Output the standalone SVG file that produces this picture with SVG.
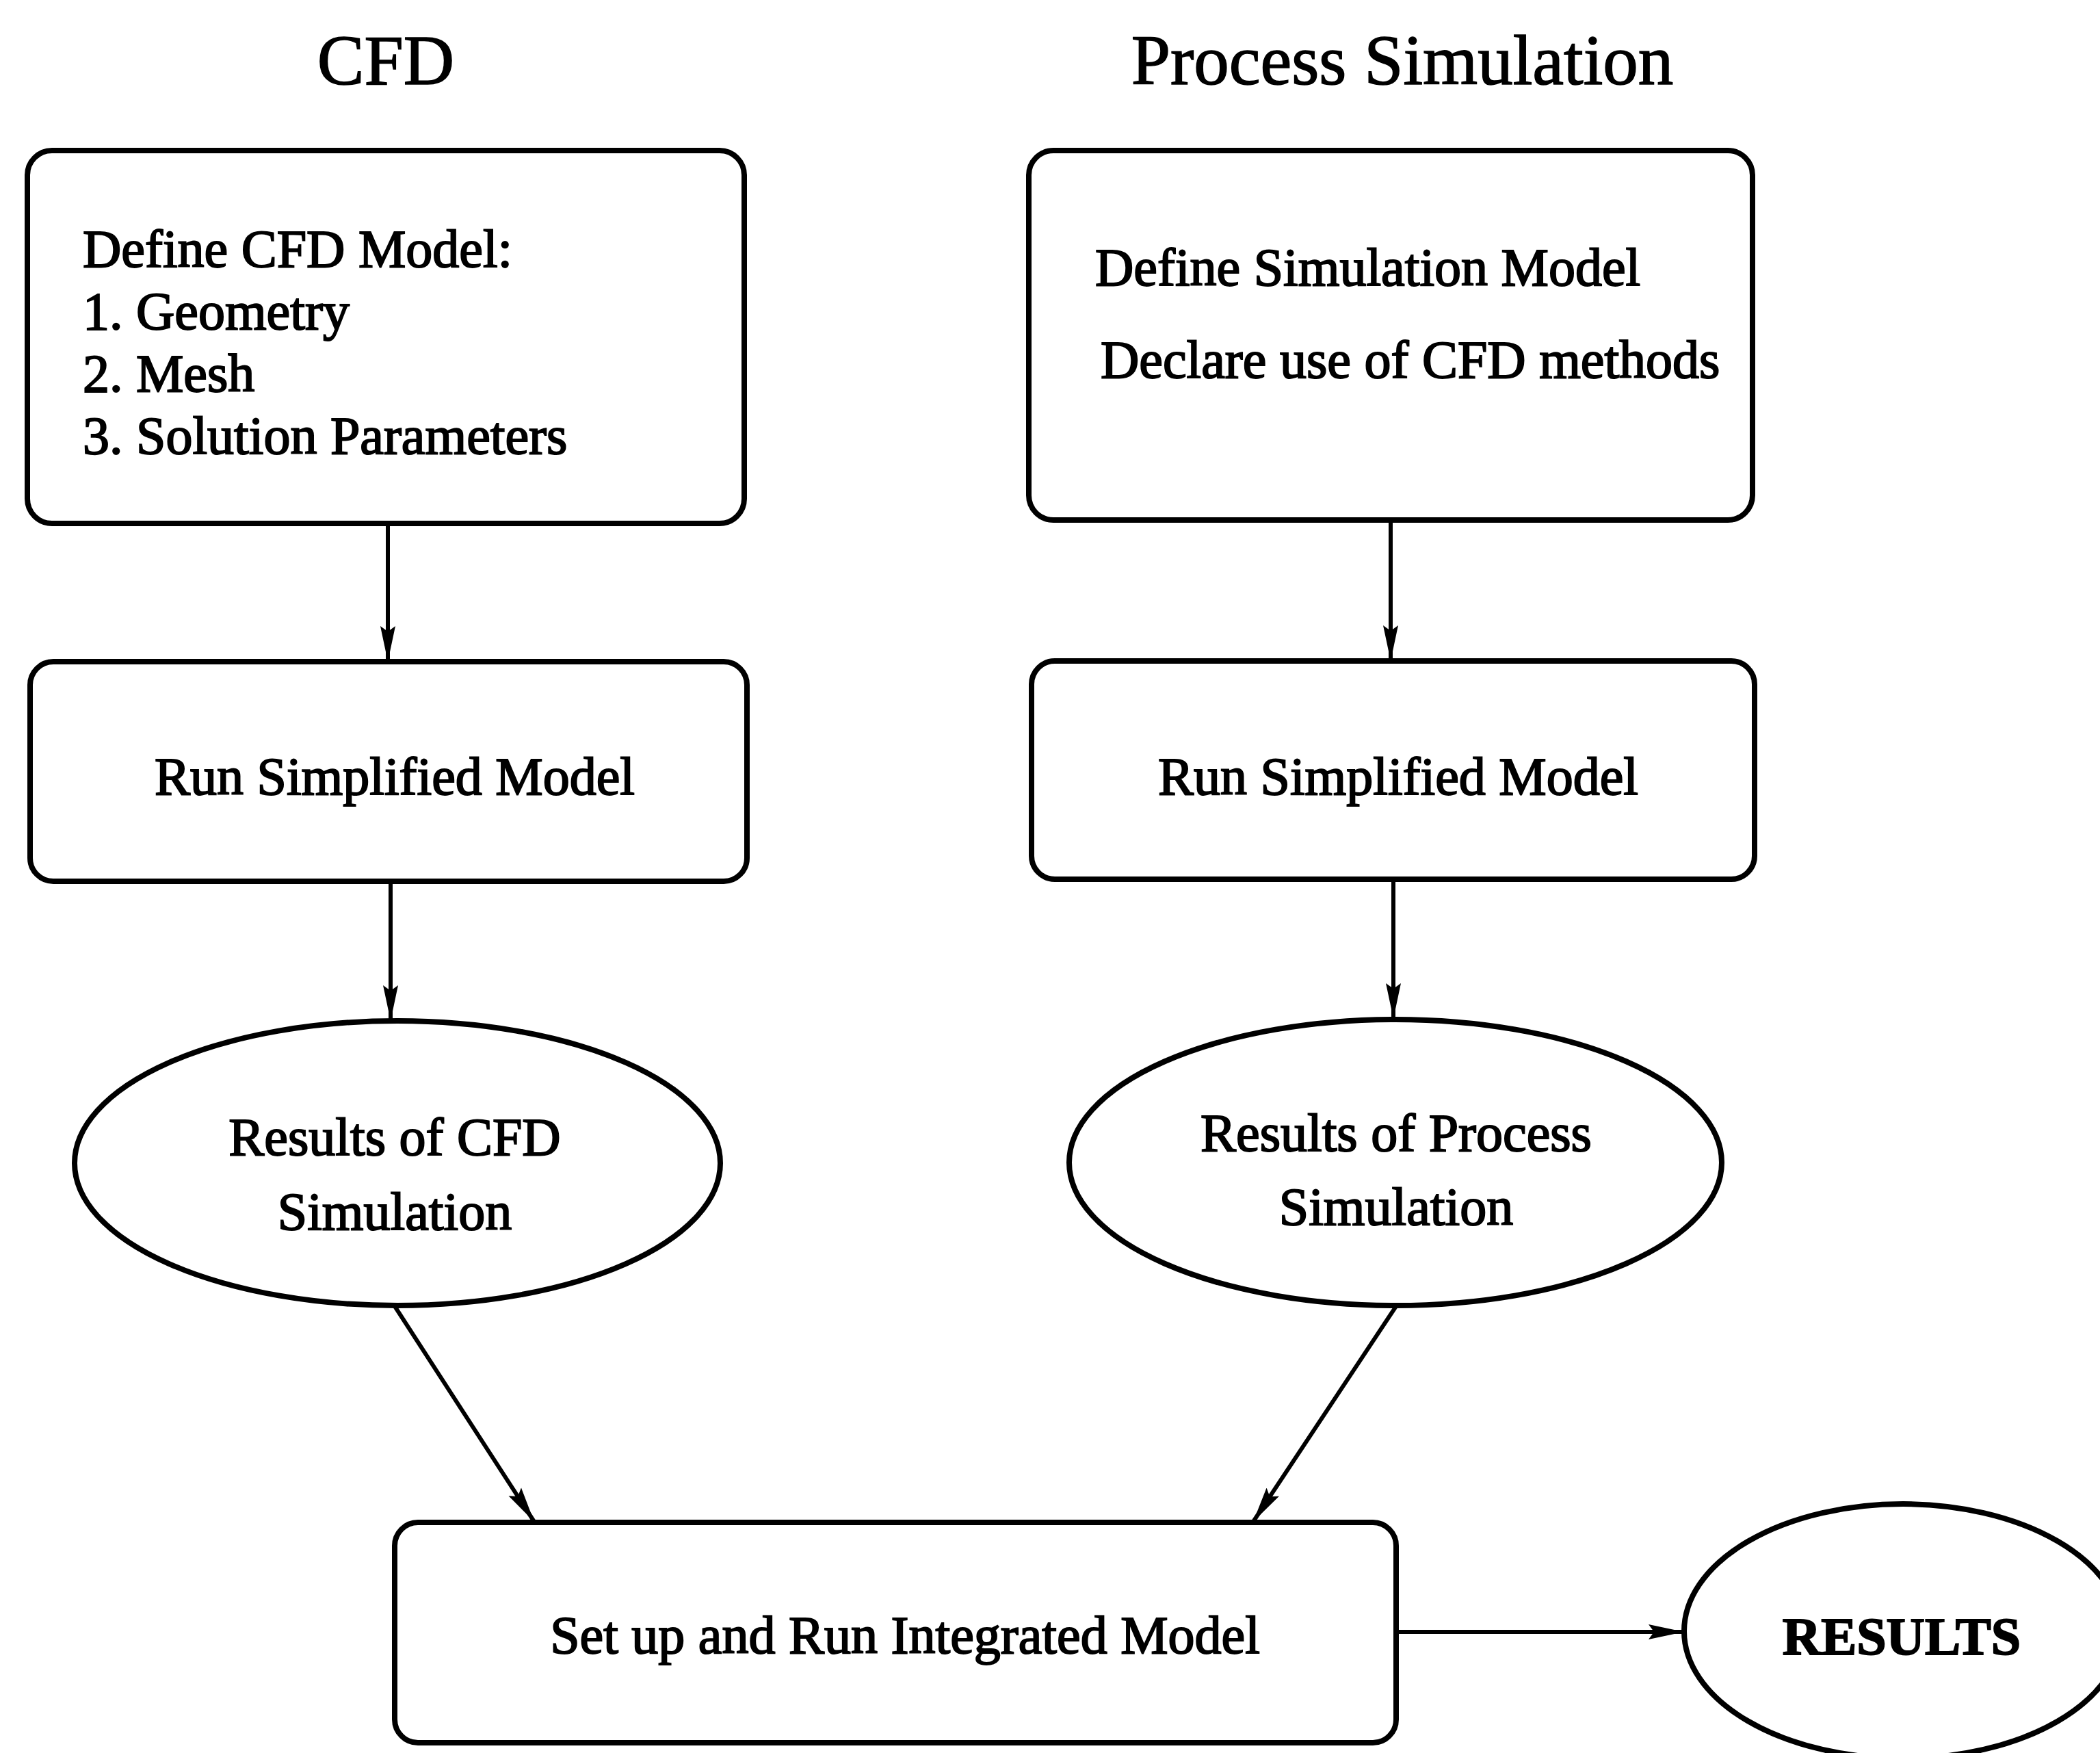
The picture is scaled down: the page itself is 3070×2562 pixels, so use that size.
<svg xmlns="http://www.w3.org/2000/svg" width="3070" height="2562" viewBox="0 0 3070 2562">
<style>
.box{fill:#fff;stroke:#000;stroke-width:8}
.ell{fill:#fff;stroke:#000;stroke-width:8}
.t{font-family:"Liberation Serif","Times New Roman",serif;font-size:78px;fill:#000;stroke:#000;stroke-width:2}
.c{text-anchor:middle}
.title{font-family:"Liberation Serif","Times New Roman",serif;font-size:103px;fill:#000;text-anchor:middle;stroke:#000;stroke-width:1.5}
.b{font-weight:bold}
.conn{stroke:#000;stroke-width:6;fill:none;marker-end:url(#arr)}
</style>
<defs>
<marker id="arr" viewBox="0 0 52 28" refX="52" refY="14" markerWidth="52" markerHeight="28" markerUnits="userSpaceOnUse" orient="auto">
<path d="M0,3 L52,14 L0,25 L8,14 Z" fill="#000"/>
</marker>
</defs>
<rect width="3070" height="2562" fill="#fff"/>
<g id="titles">
<text class="title" x="564" y="123">CFD</text>
<text class="title" x="2050" y="123">Process Simulation</text>
</g>
<g id="connectors">
<line class="conn" x1="567" y1="765" x2="567" y2="967"/>
<line class="conn" x1="571" y1="1288" x2="571" y2="1492"/>
<line class="conn" x1="2033" y1="760" x2="2033" y2="966"/>
<line class="conn" x1="2037" y1="1285" x2="2037" y2="1489"/>
<line class="conn" x1="577" y1="1909" x2="781" y2="2224"/>
<line class="conn" x1="2041" y1="1909" x2="1832" y2="2224"/>
<line class="conn" x1="2044" y1="2385" x2="2462" y2="2385"/>
</g>
<g id="node-define-cfd">
<rect class="box" x="40" y="220" width="1048" height="545" rx="36"/>
<text class="t" x="121" y="390">Define CFD Model:</text>
<text class="t" x="121" y="481">1. Geometry</text>
<text class="t" x="121" y="572">2. Mesh</text>
<text class="t" x="121" y="663">3. Solution Parameters</text>
</g>
<g id="node-define-sim">
<rect class="box" x="1504" y="220" width="1058" height="540" rx="36"/>
<text class="t" x="1601" y="417">Define Simulation Model</text>
<text class="t" x="1609" y="552">Declare use of CFD methods</text>
</g>
<g id="node-run-cfd">
<rect class="box" x="44" y="967" width="1048" height="321" rx="34"/>
<text class="t c" x="577" y="1161">Run Simplified Model</text>
</g>
<g id="node-run-sim">
<rect class="box" x="1508" y="966" width="1057" height="319" rx="34"/>
<text class="t c" x="2044" y="1161">Run Simplified Model</text>
</g>
<g id="node-results-cfd">
<ellipse class="ell" cx="581" cy="1700" rx="472" ry="208"/>
<text class="t c" x="577" y="1688">Results of CFD</text>
<text class="t c" x="577" y="1797">Simulation</text>
</g>
<g id="node-results-sim">
<ellipse class="ell" cx="2040" cy="1699" rx="477" ry="209"/>
<text class="t c" x="2041" y="1682">Results of Process</text>
<text class="t c" x="2041" y="1790">Simulation</text>
</g>
<g id="node-integrated">
<rect class="box" x="577" y="2225" width="1464" height="322" rx="34"/>
<text class="t c" x="1323" y="2416">Set up and Run Integrated Model</text>
</g>
<g id="node-results">
<ellipse class="ell" cx="2782" cy="2384" rx="320" ry="186"/>
<text class="t c b" x="2780" y="2418">RESULTS</text>
</g>
</svg>
